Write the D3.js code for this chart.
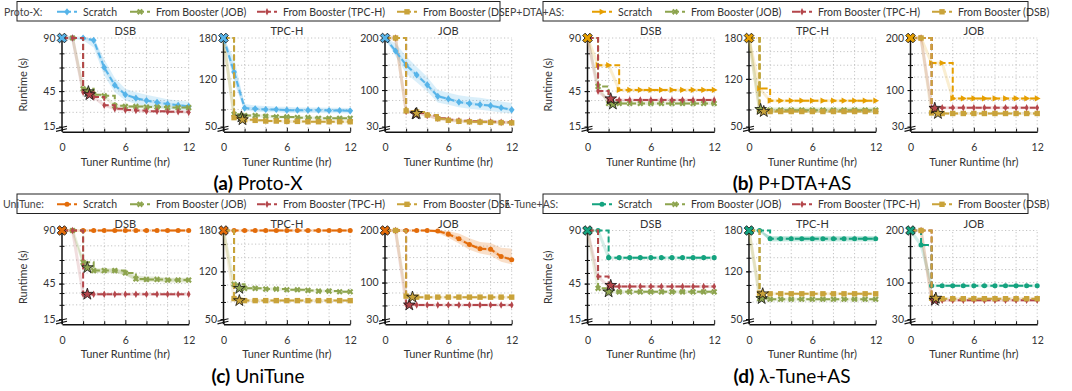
<!DOCTYPE html>
<html>
<head>
<meta charset="utf-8">
<script src="https://cdn.jsdelivr.net/npm/d3@7"></script>
<style>
  body { margin: 0; background: #fff; }
  svg text { font-family: Lato, "Open Sans", sans-serif; }
</style>
</head>
<body>
<svg id="chart" width="1072" height="391"></svg>
<script>
const methods = ['Proto-X', 'P+DTA+AS', 'UniTune', 'λ-Tune+AS'];
const panelLetters = ['(a)', '(b)', '(c)', '(d)'];
const workloads = ['DSB', 'TPC-H', 'JOB'];
const keys = ['Scratch', 'JOB', 'TPC-H', 'DSB'];
const seriesNames = ['Scratch', 'From Booster (JOB)', 'From Booster (TPC-H)', 'From Booster (DSB)'];
const hours = [0, 1, 2, 3, 4, 5, 6, 7, 8, 9, 10, 11, 12];
const xTicks = [0, 6, 12];
const xMinor = [2, 4, 8, 10];
const xGrid = [2, 4, 6, 8, 10, 12];
const yTicks = { 'DSB': [15, 45, 90], 'TPC-H': [50, 120, 180], 'JOB': [30, 100, 200] };
const yGrid = { 'DSB': [27, 37, 45, 54, 65, 77, 90], 'TPC-H': [75, 100, 120, 140, 160, 180], 'JOB': [56, 80, 100, 125, 148, 170, 200] };

// runtime (s) at each tuner hour 0..12
const protoX = {
  'DSB': {
    'Scratch': [90, 90, 90, 88, 65, 50, 42, 39, 37, 35.5, 34, 33, 32],
    'JOB': [90, 90, 47, 42, 41, 32.5, 32, 32, 31.5, 31.5, 31, 31, 31],
    'TPC-H': [90, 90, 44, 40, 33, 30, 29, 28.5, 28, 28, 27.5, 27.5, 27]
  },
  'TPC-H': {
    'Scratch': [180, 130, 77, 76, 75, 75, 74, 74, 74, 74, 73.5, 73.5, 73],
    'JOB': [180, 68, 66, 66, 65, 64, 64, 63, 63, 62, 62, 62, 62],
    'DSB': [180, 63, 60, 59, 58, 58, 57.5, 57.5, 57, 57, 57, 57, 57]
  },
  'JOB': {
    'Scratch': [200, 175, 148, 129, 110, 88, 83, 77, 74, 72, 70, 66, 62],
    'TPC-H': [200, 200, 59, 56, 51, 46, 43, 41, 40, 39, 39, 38, 38],
    'DSB': [200, 200, 60, 58, 52, 45, 42, 40, 39, 38.5, 38, 37.5, 37]
  }
};
const protoXBands = {
  'DSB': { 'Scratch': { lo: [90, 90, 88, 82, 58, 44, 37, 34, 32, 31, 30, 29, 28.5], hi: [90, 90, 90, 90, 72, 56, 47, 44, 42, 40, 38, 37, 36] } },
  'TPC-H': { 'Scratch': { lo: [180, 115, 73, 72, 71, 71, 70, 70, 70, 70, 69.5, 69.5, 69], hi: [180, 150, 83, 81, 80, 79, 79, 78, 78, 78, 77.5, 77.5, 77] } },
  'JOB': { 'Scratch': { lo: [200, 165, 132, 115, 97, 76, 72, 67, 64, 62, 60, 57, 55], hi: [200, 190, 165, 145, 125, 100, 95, 90, 87, 85, 82, 78, 75] } }
};
const protoXStars = {
  'DSB': { 'JOB': [2.5, 44.5], 'TPC-H': [2.6, 42] },
  'TPC-H': { 'JOB': [1.7, 64], 'DSB': [1.8, 60] },
  'JOB': { 'TPC-H': [2.9, 54], 'DSB': [3, 55] }
};

const pdta = {
  'DSB': {
    'Scratch': [90, 67, 67, 46, 46, 46, 46, 46, 46, 46, 46, 46, 46],
    'JOB': [90, 49, 34.5, 34.5, 34.5, 34.5, 34.5, 34.5, 34.5, 34.5, 34.5, 34.5, 34.5],
    'TPC-H': [90, 45, 37.5, 37.5, 37.5, 37.5, 37.5, 37.5, 37.5, 37.5, 37.5, 37.5, 37.5]
  },
  'TPC-H': {
    'Scratch': [180, 106, 88, 88, 88, 88, 88, 88, 88, 88, 88, 88, 88],
    'JOB': [180, 75, 74, 74, 74, 74, 74, 74, 74, 74, 74, 74, 74],
    'DSB': [180, 73, 72, 72, 72, 72, 72, 72, 72, 72, 72, 72, 72]
  },
  'JOB': {
    'Scratch': [200, 200, 152, 152, 84, 84, 84, 84, 84, 84, 84, 84, 84],
    'TPC-H': [200, 200, 66, 66, 66, 66, 66, 66, 66, 66, 66, 66, 66],
    'DSB': [200, 200, 56, 55, 55, 55, 55, 55, 55, 55, 55, 55, 55]
  }
};
const pdtaBands = {
  'TPC-H': { 'JOB': { lo: [180, 71, 70, 70, 70, 70, 70, 70, 70, 70, 70, 70, 70], hi: [180, 79, 78, 78, 78, 78, 78, 78, 78, 78, 78, 78, 78] } }
};
const pdtaStars = {
  'DSB': { 'JOB': [2.4, 34], 'TPC-H': [2.2, 38.5] },
  'TPC-H': { 'JOB': [1.1, 75], 'DSB': [1.4, 72] },
  'JOB': { 'TPC-H': [2.3, 65], 'DSB': [2.6, 55] }
};

const uniTune = {
  'DSB': {
    'Scratch': [90, 90, 90, 90, 90, 90, 90, 90, 90, 90, 90, 90, 90],
    'JOB': [90, 90, 63, 56, 56, 56, 54, 49, 48.5, 48.5, 48, 48, 48],
    'TPC-H': [90, 90, 36, 36, 36, 36, 36, 36, 36, 36, 36, 36, 36]
  },
  'TPC-H': {
    'Scratch': [180, 180, 180, 180, 180, 180, 180, 180, 180, 180, 180, 180, 180],
    'JOB': [180, 101, 95, 95, 94, 94, 93, 93, 92, 91, 91, 90, 90],
    'DSB': [180, 80, 77, 77, 77, 77, 77, 77, 77, 77, 77, 77, 77]
  },
  'JOB': {
    'Scratch': [200, 200, 200, 200, 200, 199, 193, 184, 173, 165, 164, 150, 144],
    'TPC-H': [200, 200, 58, 57, 57, 57, 57, 57, 57, 57, 57, 57, 57],
    'DSB': [200, 200, 74, 72, 72, 72, 72, 72, 72, 72, 72, 72, 72]
  }
};
const uniTuneBands = {
  'DSB': { 'JOB': { lo: [90, 90, 60, 54, 54, 54, 52, 47, 46.5, 46.5, 46, 46, 46], hi: [90, 90, 66, 58, 58, 58, 56, 52, 51, 51, 50, 50, 50] } },
  'JOB': { 'Scratch': { lo: [200, 200, 200, 200, 200, 195, 186, 175, 163, 156, 152, 140, 135], hi: [200, 200, 200, 200, 200, 200, 199, 194, 185, 178, 176, 167, 165] } }
};
const uniTuneStars = {
  'DSB': { 'JOB': [2.4, 58.5], 'TPC-H': [2.4, 36] },
  'TPC-H': { 'JOB': [1.5, 95], 'DSB': [1.5, 77] },
  'JOB': { 'TPC-H': [2.3, 57], 'DSB': [2.6, 72] }
};

const lambdaTune = {
  'DSB': {
    'Scratch': [90, 90, 67, 67, 67, 67, 67, 67, 67, 67, 67, 67, 67],
    'JOB': [90, 41, 38, 38, 38, 38, 38, 38, 38, 38, 38, 38, 38],
    'TPC-H': [90, 51, 42.5, 42.5, 42.5, 42.5, 42.5, 42.5, 42.5, 42.5, 42.5, 42.5, 42.5]
  },
  'TPC-H': {
    'Scratch': [180, 180, 168, 168, 168, 168, 168, 168, 168, 168, 168, 168, 168],
    'JOB': [180, 80, 79, 79, 79, 79, 79, 79, 79, 79, 79, 79, 79],
    'DSB': [180, 88, 87, 87, 87, 87, 87, 87, 87, 87, 87, 87, 87]
  },
  'JOB': {
    'Scratch': [200, 172, 94, 94, 94, 94, 94, 94, 94, 94, 94, 94, 94],
    'TPC-H': [200, 200, 67, 66, 66, 66, 66, 66, 66, 66, 66, 66, 66],
    'DSB': [200, 200, 70, 69, 69, 69, 69, 69, 69, 69, 69, 69, 69]
  }
};
const lambdaBands = {
  'TPC-H': { 'Scratch': { lo: [180, 180, 164, 164, 164, 164, 164, 164, 164, 164, 164, 164, 164], hi: [180, 180, 172, 172, 172, 172, 172, 172, 172, 172, 172, 172, 172] } }
};
const lambdaStars = {
  'DSB': { 'JOB': [2.0, 38], 'TPC-H': [2.2, 43.5] },
  'TPC-H': { 'JOB': [1.2, 80], 'DSB': [1.3, 87] },
  'JOB': { 'TPC-H': [2.3, 66], 'DSB': [2.4, 70] }
};

const methodData = [protoX, pdta, uniTune, lambdaTune];
const methodBands = [protoXBands, pdtaBands, uniTuneBands, lambdaBands];
const methodStars = [protoXStars, pdtaStars, uniTuneStars, lambdaStars];

// styles
const boosterColor = { 'JOB': '#8DA44E', 'TPC-H': '#B4464B', 'DSB': '#C9A33A' };
const boosterShape = { 'JOB': 'cross', 'TPC-H': 'thinDiamond', 'DSB': 'square' };
const scratchColor = ['#56B4E9', '#E69F00', '#E36C0A', '#14A37F'];
const scratchShape = ['diamond', 'triRight', 'circle', 'circle'];
const scratchCurve = [d3.curveLinear, d3.curveStepAfter, d3.curveLinear, d3.curveStepAfter];

const shapes = {
  diamond: { d: 'M0,-3.6L2.9,0L0,3.6L-2.9,0Z' },
  thinDiamond: { d: 'M0,-3.8L1.9,0L0,3.8L-1.9,0Z' },
  square: { d: 'M-2.7,-2.7H2.7V2.7H-2.7Z' },
  cross: { d: d3.symbol(d3.symbolCross, 24)(), rot: 45 },
  triRight: { d: 'M3.4,0L-2.4,-3.1L-2.4,3.1Z' },
  circle: { d: d3.symbol(d3.symbolCircle, 20)() },
  star: { d: d3.symbol(d3.symbolStar, 42)() },
  startX: { d: d3.symbol(d3.symbolCross, 58)(), rot: 45 }
};

const svg = d3.select('#chart');
svg.append('defs').append('clipPath').attr('id', 'clipLeft')
  .append('rect').attr('x', 0).attr('y', 0).attr('width', 509).attr('height', 391);

const colW = 525.5, rowH = 192.5;
const axisLefts = [62, 223.5, 385];
const plotW = 126.7;
const yTop = 38, yBot = 126.5, axisBot = 131.7;
const labelX = [4, 510, 3, 505];
const legendX = [57, 130, 257, 397];

function styleOf(p, k) {
  return k === 'Scratch'
    ? { color: scratchColor[p], shape: scratchShape[p], curve: scratchCurve[p] }
    : { color: boosterColor[k], shape: boosterShape[k], curve: d3.curveStepAfter };
}

function marker(g, shape, x, y, fill, stroke) {
  const s = shapes[shape];
  g.append('path')
    .attr('d', s.d)
    .attr('transform', `translate(${x},${y}) rotate(${s.rot || 0})`)
    .attr('fill', fill)
    .attr('stroke', stroke || 'none')
    .attr('stroke-width', stroke ? 0.8 : 0);
}

function drawLegend(p, col, dy) {
  const lg = svg.append('g');
  if (col === 0) lg.attr('clip-path', 'url(#clipLeft)');
  lg.append('rect')
    .attr('x', col ? 543 : 17).attr('y', dy + 1.5)
    .attr('width', col ? 485 : 483).attr('height', 19.5)
    .attr('fill', '#fff').attr('stroke', '#222').attr('stroke-width', 1);
  lg.append('text')
    .attr('x', labelX[p]).attr('y', dy + 15.5)
    .attr('fill', '#444').style('font-size', '10.5px')
    .text(methods[p] + ':');
  keys.forEach((k, j) => {
    const st = styleOf(p, k);
    const hx = legendX[j] + col * 535, cy = dy + 11.8;
    lg.append('line')
      .attr('x1', hx).attr('x2', hx + 20).attr('y1', cy).attr('y2', cy)
      .attr('stroke', st.color).attr('stroke-width', 2)
      .attr('stroke-dasharray', '8,3,3,3');
    marker(lg, st.shape, hx + 10, cy, st.color);
    lg.append('text')
      .attr('x', hx + 26).attr('y', dy + 15.5)
      .attr('fill', '#333').style('font-size', '10.5px')
      .text(seriesNames[j]);
  });
}

methods.forEach((m, p) => {
  const col = p % 2, row = Math.floor(p / 2);
  const dx = col * colW, dy = row * rowH;

  drawLegend(p, col, dy);

  workloads.forEach((wl, i) => {
    const left = dx + axisLefts[i];
    const ext = yTicks[wl];
    const x = d3.scaleLinear().domain([0, 12]).range([left, left + plotW]);
    const y = d3.scaleLinear().domain([ext[0], ext[2]]).range([dy + yBot, dy + yTop]);
    const bot = dy + axisBot, top = y(ext[2]);
    const g = svg.append('g');

    // dotted grid
    g.selectAll('.vgrid').data(xGrid).enter().append('line')
      .attr('x1', d => x(d)).attr('x2', d => x(d))
      .attr('y1', bot).attr('y2', top)
      .attr('stroke', '#bdbdbd').attr('stroke-width', 0.9).attr('stroke-dasharray', '1.2,2.3');
    g.selectAll('.hgrid').data(yGrid[wl]).enter().append('line')
      .attr('x1', x(0)).attr('x2', x(12))
      .attr('y1', d => y(d)).attr('y2', d => y(d))
      .attr('stroke', '#bdbdbd').attr('stroke-width', 0.9).attr('stroke-dasharray', '1.2,2.3');

    // y axis
    const ya = g.append('g').attr('transform', `translate(${left},0)`)
      .call(d3.axisLeft(y).tickValues(ext).tickSize(3).tickPadding(3.5));
    ya.select('.domain').remove();
    ya.selectAll('text').style('font-size', '10.5px').style('font-family', 'Lato, sans-serif').attr('fill', '#333');
    ya.selectAll('line').attr('stroke', '#111');
    const ym = g.append('g').attr('transform', `translate(${left},0)`)
      .call(d3.axisLeft(y).tickValues(yGrid[wl]).tickSize(2.5).tickFormat(''));
    ym.select('.domain').remove();
    ym.selectAll('line').attr('stroke', '#111');
    const ym2 = g.append('g').attr('transform', `translate(${left},0)`)
      .call(d3.axisRight(y).tickValues(yGrid[wl]).tickSize(2.5).tickFormat(''));
    ym2.select('.domain').remove();
    ym2.selectAll('line').attr('stroke', '#111');
    g.append('line')
      .attr('x1', left).attr('x2', left).attr('y1', bot).attr('y2', top - 1.5)
      .attr('stroke', '#111').attr('stroke-width', 1.5);

    // x axis
    const xa = g.append('g').attr('transform', `translate(0,${bot})`)
      .call(d3.axisBottom(x).tickValues(xTicks).tickSizeInner(-4).tickSizeOuter(0).tickPadding(12));
    xa.select('.domain').attr('stroke', '#111').attr('stroke-width', 1.5);
    xa.selectAll('text').style('font-size', '10.5px').style('font-family', 'Lato, sans-serif').attr('fill', '#333');
    xa.selectAll('line').attr('stroke', '#111');
    const xm = g.append('g').attr('transform', `translate(0,${bot})`)
      .call(d3.axisBottom(x).tickValues(xMinor).tickSizeInner(-3).tickSizeOuter(0).tickFormat(''));
    xm.select('.domain').remove();
    xm.selectAll('line').attr('stroke', '#111');

    // axis break marks
    [bot - 4.2, bot - 1.6].forEach(by => {
      g.append('line')
        .attr('x1', left - 6).attr('y1', by + 1.3).attr('x2', left + 5).attr('y2', by - 1.3)
        .attr('stroke', '#111').attr('stroke-width', 1.1);
    });

    // texts
    g.append('text').attr('x', left + plotW / 2).attr('y', dy + 35)
      .attr('text-anchor', 'middle').attr('fill', '#333').style('font-size', '11px').text(wl);
    g.append('text').attr('x', left + plotW / 2).attr('y', dy + 165.5)
      .attr('text-anchor', 'middle').attr('fill', '#333').style('font-size', '11px').text('Tuner Runtime (hr)');
    if (i === 0) {
      const cy = (dy + yTop + bot) / 2;
      g.append('text')
        .attr('transform', `translate(${left - 35.5},${cy}) rotate(-90)`)
        .attr('text-anchor', 'middle').attr('fill', '#333').style('font-size', '11px')
        .text('Runtime (s)');
    }

    // series
    const wdata = methodData[p][wl];
    const wbands = methodBands[p][wl] || {};
    const present = keys.filter(k => wdata[k]);

    present.forEach(k => {
      const b = wbands[k];
      if (!b) return;
      g.append('path').datum(hours)
        .attr('d', d3.area().x(h => x(h)).y0((h, j) => y(b.lo[j])).y1((h, j) => y(b.hi[j])))
        .attr('fill', styleOf(p, k).color).attr('opacity', 0.22);
    });

    present.forEach(k => {
      const pts = hours.map((h, j) => [h, wdata[k][j]]);
      g.append('path').datum(pts)
        .attr('d', d3.line().x(d => x(d[0])).y(d => y(d[1])))
        .attr('fill', 'none').attr('stroke', styleOf(p, k).color)
        .attr('stroke-width', 3).attr('opacity', 0.18);
    });

    present.forEach(k => {
      const st = styleOf(p, k);
      const pts = hours.map((h, j) => [h, wdata[k][j]]);
      g.append('path').datum(pts)
        .attr('d', d3.line().x(d => x(d[0])).y(d => y(d[1])).curve(st.curve))
        .attr('fill', 'none').attr('stroke', st.color)
        .attr('stroke-width', 2).attr('stroke-dasharray', '6,3');
      pts.slice(1).forEach(d => marker(g, st.shape, x(d[0]), y(d[1]), st.color));
    });

    const ws = methodStars[p][wl];
    Object.keys(ws).forEach(k => marker(g, 'star', x(ws[k][0]), y(ws[k][1]), boosterColor[k], '#111'));
    marker(g, 'startX', x(0), y(wdata['Scratch'][0]), scratchColor[p], '#111');
  });

  // panel caption
  const t = svg.append('text')
    .attr('x', col ? 792 : 258).attr('y', dy + 190)
    .attr('text-anchor', 'middle').attr('fill', '#000').style('font-size', '19px');
  t.append('tspan').attr('font-weight', 'bold').text(panelLetters[p]);
  t.append('tspan').text(' ' + m);
});
</script>
</body>
</html>
